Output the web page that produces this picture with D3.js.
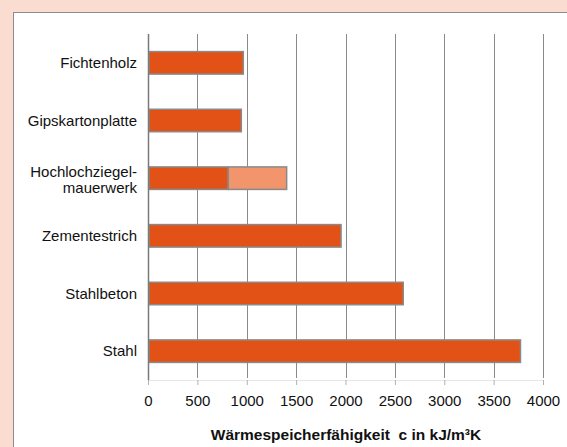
<!DOCTYPE html>
<html>
<head>
<meta charset="utf-8">
<script src="https://cdn.jsdelivr.net/npm/d3@7"></script>
<style>
  body { margin: 0; background: #fbdcd1; }
  svg { display: block; font-family: "Liberation Sans", Arial, sans-serif; }
</style>
</head>
<body>
<div id="chart"></div>
<script>
var categories = ['Fichtenholz', 'Gipskartonplatte', 'Hochlochziegel-|mauerwerk', 'Zementestrich', 'Stahlbeton', 'Stahl'];
var baseValues = [965, 945, 813, 1955, 2585, 3772];
var extraValues = [0, 0, 591, 0, 0, 0];
var xTicks = [0, 500, 1000, 1500, 2000, 2500, 3000, 3500, 4000];
var xTitle = 'Wärmespeicherfähigkeit  c in kJ/m³K';

var width = 567, height = 447;

var svg = d3.select('#chart').append('svg')
    .attr('width', width)
    .attr('height', height);

// white panel
svg.append('rect')
    .attr('x', 13.5).attr('y', 12.5)
    .attr('width', width).attr('height', height)
    .attr('fill', '#fff')
    .attr('stroke', '#8c8c8c');

var x = d3.scaleLinear().domain([0, 4000]).range([148, 543]);
var y = d3.scaleBand().domain(categories).range([34, 380])
    .paddingInner(0.61).paddingOuter(0.305);

// vertical grid lines
svg.append('g').selectAll('line')
    .data(xTicks.slice(1))
  .enter().append('line')
    .attr('x1', function(d) { return Math.round(x(d)) + 0.5; })
    .attr('x2', function(d) { return Math.round(x(d)) + 0.5; })
    .attr('y1', 34).attr('y2', 378)
    .attr('stroke', '#8a8a8a');

// x axis
var xAxis = svg.append('g')
    .attr('transform', 'translate(0,380)')
    .call(d3.axisBottom(x).tickValues(xTicks).tickFormat(d3.format('d'))
      .tickSize(5).tickPadding(10));
xAxis.select('.domain').attr('stroke', '#e6e6e6');
xAxis.selectAll('.tick line').attr('stroke', '#b0b0b0');
xAxis.selectAll('.tick text')
    .attr('font-size', 15).attr('fill', '#111')
    .style('font-family', '"Liberation Sans", Arial, sans-serif');

// bars
var bars = svg.append('g');
bars.selectAll('rect.base')
    .data(categories)
  .enter().append('rect')
    .attr('class', 'base')
    .attr('x', x(0) + 1)
    .attr('y', function(d) { return y(d); })
    .attr('width', function(d, i) { return x(baseValues[i]) - x(0) - 1; })
    .attr('height', y.bandwidth())
    .attr('fill', '#e25217')
    .attr('stroke', '#8a8a8a')
    .attr('stroke-width', 1.5);

bars.selectAll('rect.extra')
    .data(categories.filter(function(d, i) { return extraValues[i] > 0; }))
  .enter().append('rect')
    .attr('class', 'extra')
    .attr('x', function(d) { var i = categories.indexOf(d); return x(baseValues[i]); })
    .attr('y', function(d) { return y(d); })
    .attr('width', function(d) { var i = categories.indexOf(d); return x(baseValues[i] + extraValues[i]) - x(baseValues[i]); })
    .attr('height', y.bandwidth())
    .attr('fill', '#f2946c')
    .attr('stroke', '#8a8a8a')
    .attr('stroke-width', 1.5);

// y axis line
svg.append('line')
    .attr('x1', 148.5).attr('x2', 148.5)
    .attr('y1', 34).attr('y2', 380)
    .attr('stroke', '#7a7a7a')
    .attr('stroke-width', 1.5);

// category labels
var labels = svg.append('g').selectAll('text')
    .data(categories)
  .enter().append('text')
    .attr('text-anchor', 'end')
    .attr('font-size', 15)
    .attr('fill', '#111');

labels.each(function(d) {
  var parts = d.split('|');
  var t = d3.select(this);
  var cy = y(d) + y.bandwidth() / 2;
  parts.forEach(function(p, k) {
    t.append('tspan')
      .attr('x', 137)
      .attr('y', parts.length > 1 ? cy - 1 + k * 16 : cy + 5)
      .text(p);
  });
});

// x title
svg.append('text')
    .attr('x', 346)
    .attr('y', 440)
    .attr('text-anchor', 'middle')
    .attr('font-size', 15.5)
    .attr('font-weight', 'bold')
    .attr('fill', '#111')
    .style('white-space', 'pre')
    .text(xTitle);
</script>
</body>
</html>
